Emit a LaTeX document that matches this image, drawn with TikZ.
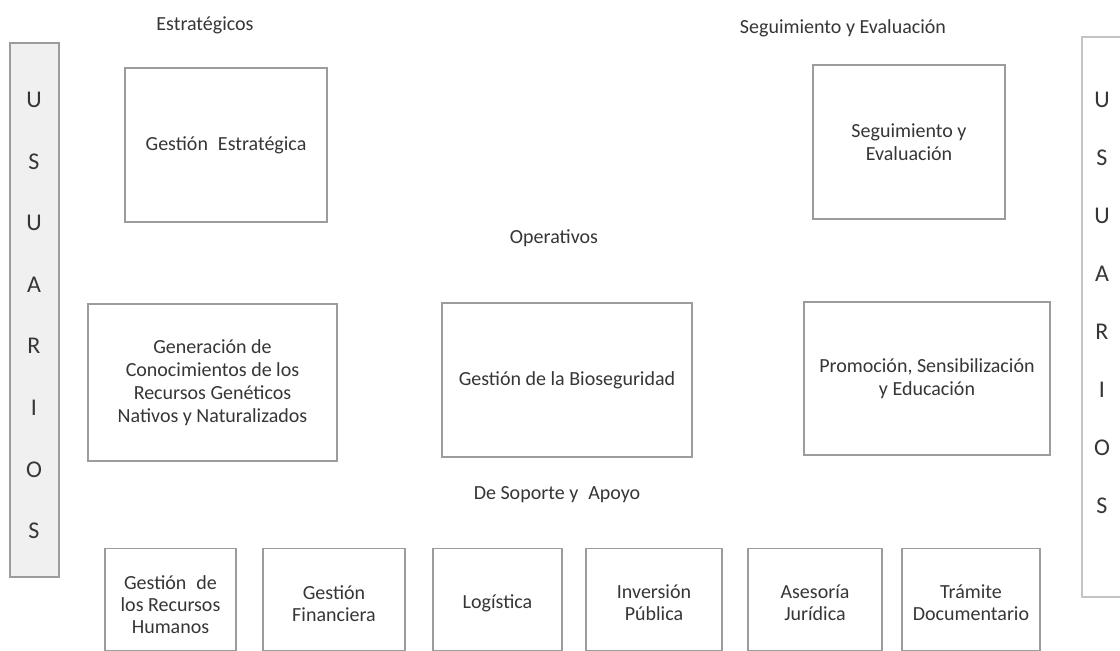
\documentclass[tikz,border=0pt]{standalone}
\usepackage{fontspec}
\setmainfont{Carlito}
\definecolor{txt}{HTML}{363636}
\definecolor{frame}{HTML}{9C9C9C}
\definecolor{barfill}{HTML}{F0F0F0}
\begin{document}
\begin{tikzpicture}[x=1pt,y=-1pt,
  box/.style={draw=frame, line width=1.3pt, fill=white, text=txt,
    font=\fontsize{20}{23}\selectfont, align=center, inner sep=0pt},
  sbox/.style={draw=frame, line width=1.3pt, fill=white, inner sep=0pt,
    minimum height=102pt},
  stxt/.style={text=txt, font=\fontsize{20}{22}\selectfont, align=center, inner sep=0pt},
  lbl/.style={text=txt, font=\fontsize{20}{23}\selectfont, inner sep=0pt},
  barbox/.style={draw=frame, line width=1.2pt, inner sep=0pt},
  letters/.style={text=txt, align=center, inner sep=0pt}]
\useasboundingbox[fill=white] (0,0) rectangle (1120,651);

% user bars
\node[barbox, fill=barfill, minimum width=49pt, minimum height=534pt] (lbar) at (34.5,310) {};
\node[letters, font=\fontsize{24}{61.6}\selectfont] (lusr) at (34,315.5) {U\\S\\U\\A\\R\\I\\O\\S};
\node[barbox, draw=frame!60, fill=white, minimum width=60pt, minimum height=560pt] (rbar) at (1112,317) {};
\node[letters, font=\fontsize{24}{58}\selectfont] (rusr) at (1102,303) {U\\S\\U\\A\\R\\I\\O\\S};

% group labels
\node[lbl] (lest) at (205,25) {Estratégicos};
\node[lbl] (lseg) at (843,28) {Seguimiento y Evaluación};
\node[lbl] (lope) at (554,238) {Operativos};
\node[lbl] (lsop) at (557,495) {De Soporte y\enspace Apoyo};

% strategic
\node[box, minimum width=202pt, minimum height=154pt] (gest) at (226,145) {Gestión\enspace Estratégica};
\node[box, minimum width=192pt, minimum height=154pt] (segu) at (909,142) {Seguimiento y\\Evaluación};

% operative
\node[box, minimum width=249pt, minimum height=157pt] (gene) at (212.5,382.5) {Generación de\\Conocimientos de los\\Recursos Genéticos\\Nativos y Naturalizados};
\node[box, minimum width=250pt, minimum height=154pt] (bios) at (567,380) {Gestión de la Bioseguridad};
\node[box, minimum width=246pt, minimum height=153pt] (prom) at (927,378.5) {Promoción, Sensibilización\\y Educación};

% support
\node[sbox, minimum width=131pt] (rrhh) at (170.5,599.5) {};
\node[sbox, minimum width=142pt] (fina) at (334,599.5) {};
\node[sbox, minimum width=129pt] (logi) at (497.5,599.5) {};
\node[sbox, minimum width=136pt] (inve) at (654,599.5) {};
\node[sbox, minimum width=134pt] (ases) at (815,599.5) {};
\node[sbox, minimum width=138pt] (tram) at (971,599.5) {};
\node[stxt] (rrhht) at ([yshift=-5pt]rrhh.center) {Gestión\enspace de\\los Recursos\\Humanos};
\node[stxt] (finat) at ([yshift=-4pt]fina.center) {Gestión\\Financiera};
\node[stxt] (logit) at ([yshift=-4pt]logi.center) {Logística};
\node[stxt] (invet) at ([yshift=-3pt]inve.center) {Inversión\\Pública};
\node[stxt] (asest) at ([yshift=-3pt]ases.center) {Asesoría\\Jurídica};
\node[stxt] (tramt) at ([yshift=-3pt]tram.center) {Trámite\\Documentario};
\end{tikzpicture}
\end{document}
